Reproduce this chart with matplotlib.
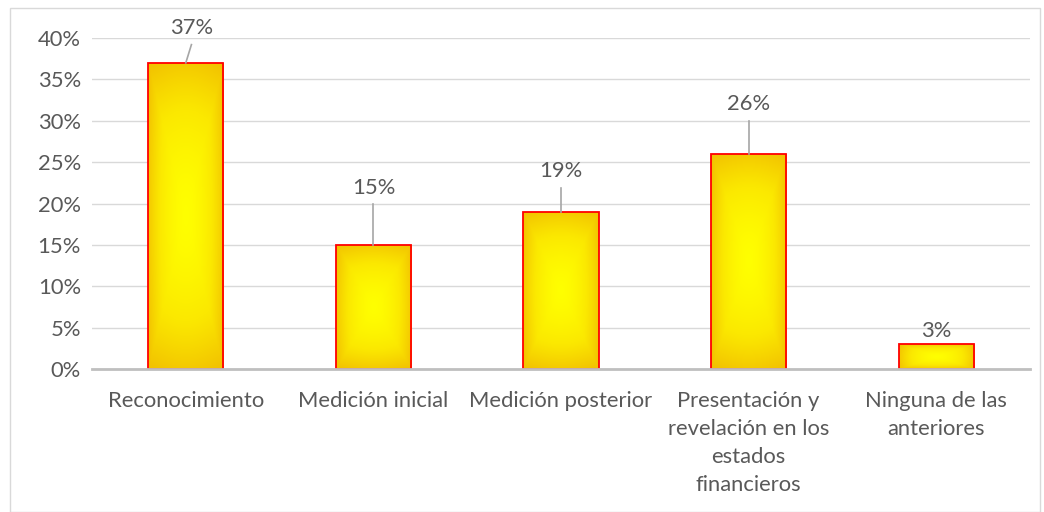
import numpy as np
import matplotlib
matplotlib.use("Agg")
import matplotlib.pyplot as plt
from matplotlib.patches import Rectangle
from matplotlib.colors import LinearSegmentedColormap

categories = ["Reconocimiento", "Medición inicial", "Medición posterior",
              "Presentación y\nrevelación en los\nestados\nfinancieros",
              "Ninguna de las\nanteriores"]
values = [0.37, 0.15, 0.19, 0.26, 0.03]
labels = ["37%", "15%", "19%", "26%", "3%"]
yticks = [0, 0.05, 0.10, 0.15, 0.20, 0.25, 0.30, 0.35, 0.40]
ytick_labels = ["0%", "5%", "10%", "15%", "20%", "25%", "30%", "35%", "40%"]
label_offsets = [0.042, 0.069, 0.049, 0.060, 0.0155]  # data units above bar top
leader = [True, True, True, True, False]
label_dx = [0.03, 0, 0, 0, 0]

plt.rcParams['font.family'] = ['Lato', 'DejaVu Sans']
gray = "#595959"
fs = 15.8

fig = plt.figure(figsize=(10.44, 5.12), dpi=100)
fig.patches.append(Rectangle((10/1044, 0), 1030/1044, 1 - 8/512, transform=fig.transFigure,
                             fill=False, edgecolor="#D9D9D9", linewidth=1.0))
ax = fig.add_axes([92/1044, 1 - 369/512, 938/1044, (369 - 38)/512])

x = np.arange(len(categories))
width = 0.4
bars = ax.bar(x, values, width=width, facecolor="none", edgecolor="#FF0000", linewidth=1.3, zorder=3)

cmap = LinearSegmentedColormap.from_list("yg", ["#FFFF00", "#FBE800", "#F2C200"])
for b in bars:
    x0, y0 = b.get_x(), b.get_y()
    w, h = b.get_width(), b.get_height()
    nx, ny = 60, 120
    gx, gy = np.meshgrid(np.linspace(-1, 1, nx), np.linspace(-1, 1, ny))
    r = np.clip(np.maximum(np.abs(gx), np.abs(gy)) ** 2 * 0.6 + np.sqrt(gx**2 + gy**2) * 0.3, 0, 1)
    im = ax.imshow(r, cmap=cmap, vmin=0, vmax=1, extent=[x0, x0 + w, y0, y0 + h],
                   aspect="auto", origin="lower", zorder=2, interpolation="bilinear")
    im.set_clip_path(b)

for i, (v, lab) in enumerate(zip(values, labels)):
    ty = v + label_offsets[i]
    ax.text(x[i] + label_dx[i], ty, lab, ha="center", va="center", fontsize=fs, color=gray, zorder=5)
    if leader[i]:
        ax.plot([x[i], x[i] + label_dx[i]], [v, ty - 0.02], color="#A6A6A6", linewidth=1.2, zorder=4)

ax.set_xlim(-0.5, len(categories) - 0.5)
ax.set_ylim(0, 0.40)
ax.set_yticks(yticks)
ax.set_yticklabels(ytick_labels, fontsize=fs, color=gray)
ax.set_xticks(x)
ax.set_xticklabels(categories, fontsize=fs, color=gray, linespacing=1.5, va="top")
ax.tick_params(axis="both", length=0, pad=8)
ax.tick_params(axis="x", pad=16)
ax.grid(axis="y", color="#D9D9D9", linewidth=1.0, zorder=0)
ax.set_axisbelow(True)
for s in ["top", "right", "left"]:
    ax.spines[s].set_visible(False)
ax.spines["bottom"].set_color("#BFBFBF")
ax.spines["bottom"].set_linewidth(2.0)
ax.spines["bottom"].set_zorder(4)

fig.savefig("out.png", dpi=100)
